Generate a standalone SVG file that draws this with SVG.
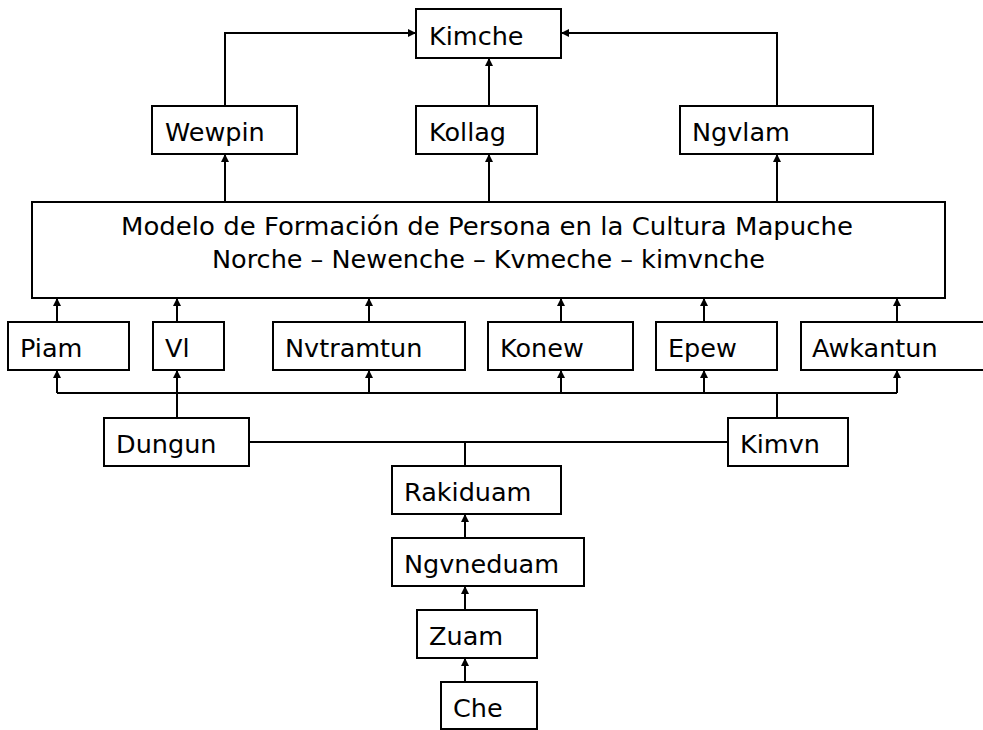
<svg xmlns="http://www.w3.org/2000/svg" width="983" height="730" viewBox="0 0 983 730">
<defs>
<marker id="ah" viewBox="0 0 10 10" refX="10" refY="5" markerWidth="8" markerHeight="8" markerUnits="userSpaceOnUse" orient="auto">
<path d="M0,0 L10,5 L0,10 z" fill="#000"/>
</marker>
<style>
rect{fill:#fff;stroke:#000;stroke-width:2}
text{font-family:"DejaVu Sans",sans-serif;font-size:25.5px;fill:#000}
.t{font-size:25px}
.c path{fill:none;stroke:#000;stroke-width:2}
.a{marker-end:url(#ah)}
</style>
</defs>
<rect x="0" y="0" width="983" height="730" style="fill:#fff;stroke:none"/>
<g class="c" id="connectors">
<path class="a" d="M225,106 V33 H416"/>
<path class="a" d="M777,106 V33 H561"/>
<path class="a" d="M489,106 V58"/>
<path class="a" d="M225,202 V154"/>
<path class="a" d="M489,202 V154"/>
<path class="a" d="M777,202 V154"/>
<path class="a" d="M57,322 V298"/>
<path class="a" d="M177,322 V298"/>
<path class="a" d="M369,322 V298"/>
<path class="a" d="M561,322 V298"/>
<path class="a" d="M704,322 V298"/>
<path class="a" d="M897,322 V298"/>
<path d="M57,393 H897"/>
<path class="a" d="M57,393 V370"/>
<path class="a" d="M177,393 V370"/>
<path class="a" d="M369,393 V370"/>
<path class="a" d="M561,393 V370"/>
<path class="a" d="M704,393 V370"/>
<path class="a" d="M897,393 V370"/>
<path d="M177,418 V393"/>
<path d="M777,418 V393"/>
<path d="M249,442 H728"/>
<path d="M465,442 V466"/>
<path class="a" d="M465,538 V514"/>
<path class="a" d="M465,610 V586"/>
<path class="a" d="M465,682 V658"/>
</g>
<g id="kimche"><rect x="416" y="9" width="145" height="49"/><text x="429" y="45">Kimche</text></g>
<g id="wewpin"><rect x="152" y="106" width="145" height="48"/><text x="165" y="141">Wewpin</text></g>
<g id="kollag"><rect x="416" y="106" width="121" height="48"/><text x="429" y="141">Kollag</text></g>
<g id="ngvlam"><rect x="680" y="106" width="193" height="48"/><text x="692" y="141">Ngvlam</text></g>
<g id="modelo"><rect x="32" y="202" width="913" height="96"/>
<text class="t" x="121" y="235" textLength="732" lengthAdjust="spacingAndGlyphs">Modelo de Formación de Persona en la Cultura Mapuche</text>
<text class="t" x="212" y="268" textLength="553" lengthAdjust="spacingAndGlyphs">Norche – Newenche – Kvmeche – kimvnche</text></g>
<g id="piam"><rect x="8" y="322" width="121" height="48"/><text x="20" y="357">Piam</text></g>
<g id="vl"><rect x="153" y="322" width="71" height="48"/><text x="165" y="357">Vl</text></g>
<g id="nvtramtun"><rect x="273" y="322" width="192" height="48"/><text x="285" y="357">Nvtramtun</text></g>
<g id="konew"><rect x="488" y="322" width="145" height="48"/><text x="500" y="357">Konew</text></g>
<g id="epew"><rect x="656" y="322" width="121" height="48"/><text x="668" y="357">Epew</text></g>
<g id="awkantun"><rect x="801" y="322" width="192" height="48"/><text x="812" y="357">Awkantun</text></g>
<g id="dungun"><rect x="104" y="418" width="145" height="48"/><text x="116" y="453">Dungun</text></g>
<g id="kimvn"><rect x="728" y="418" width="120" height="48"/><text x="740" y="453">Kimvn</text></g>
<g id="rakiduam"><rect x="392" y="466" width="169" height="48"/><text x="404" y="501">Rakiduam</text></g>
<g id="ngvneduam"><rect x="392" y="538" width="192" height="48"/><text x="404" y="573">Ngvneduam</text></g>
<g id="zuam"><rect x="417" y="610" width="120" height="48"/><text x="429" y="645">Zuam</text></g>
<g id="che"><rect x="441" y="682" width="96" height="47"/><text x="453" y="717">Che</text></g>
</svg>
